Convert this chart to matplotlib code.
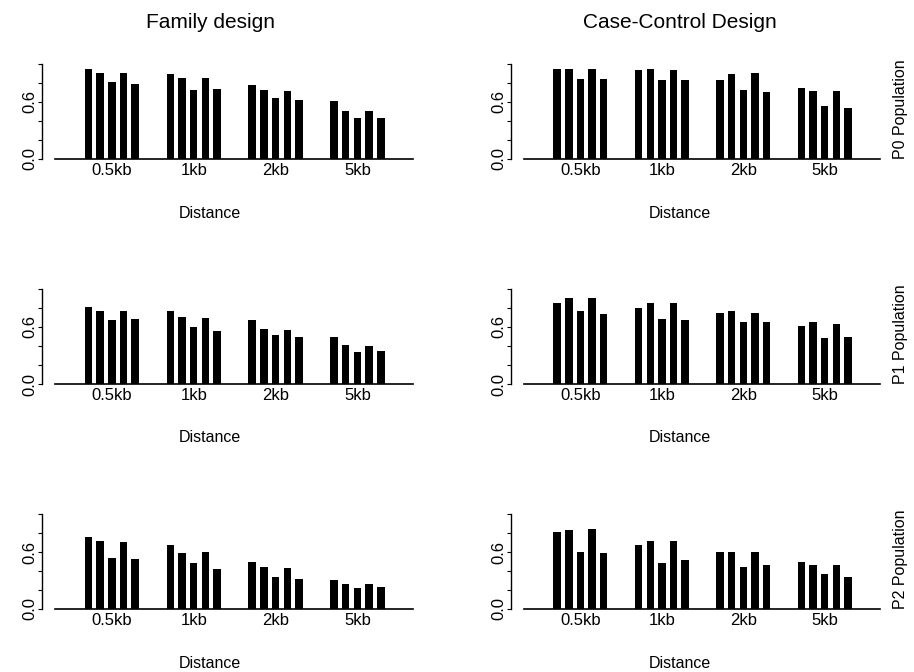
import matplotlib
matplotlib.use("Agg")
import matplotlib.pyplot as plt
import numpy as np

plt.rcParams['font.family'] = ['Liberation Sans', 'DejaVu Sans']

distances = ["0.5kb", "1kb", "2kb", "5kb"]
populations = ["P0 Population", "P1 Population", "P2 Population"]
designs = ["Family design", "Case-Control Design"]

# power values, 5 bars per distance group
family_p0 = [[0.95, 0.90, 0.81, 0.90, 0.79],
             [0.89, 0.85, 0.73, 0.85, 0.74],
             [0.78, 0.73, 0.64, 0.72, 0.62],
             [0.61, 0.51, 0.43, 0.50, 0.43]]
family_p1 = [[0.81, 0.77, 0.67, 0.77, 0.68],
             [0.77, 0.71, 0.60, 0.69, 0.56],
             [0.67, 0.58, 0.52, 0.57, 0.50],
             [0.49, 0.41, 0.34, 0.40, 0.35]]
family_p2 = [[0.76, 0.72, 0.54, 0.71, 0.53],
             [0.67, 0.59, 0.48, 0.60, 0.42],
             [0.50, 0.44, 0.34, 0.43, 0.32],
             [0.31, 0.26, 0.22, 0.26, 0.23]]
cc_p0 = [[0.95, 0.95, 0.84, 0.95, 0.84],
         [0.94, 0.95, 0.83, 0.94, 0.83],
         [0.83, 0.89, 0.73, 0.90, 0.71],
         [0.75, 0.72, 0.56, 0.72, 0.54]]
cc_p1 = [[0.85, 0.91, 0.77, 0.90, 0.74],
         [0.80, 0.85, 0.68, 0.85, 0.67],
         [0.75, 0.77, 0.65, 0.75, 0.65],
         [0.61, 0.65, 0.48, 0.63, 0.50]]
cc_p2 = [[0.81, 0.83, 0.60, 0.84, 0.59],
         [0.67, 0.72, 0.48, 0.72, 0.52],
         [0.60, 0.60, 0.44, 0.60, 0.46],
         [0.49, 0.46, 0.37, 0.46, 0.34]]

data = [[family_p0, cc_p0], [family_p1, cc_p1], [family_p2, cc_p2]]

W, H = 914, 672
fig = plt.figure(figsize=(W / 100, H / 100), dpi=100)

col_left = [42, 511]
col_right = [413, 880]
row_bottom = [159, 384, 609]
row_top = [64, 289, 514]

for r in range(3):
    for c in range(2):
        ax = fig.add_axes([col_left[c] / W, 1 - row_bottom[r] / H,
                           (col_right[c] - col_left[c]) / W,
                           (row_bottom[r] - row_top[r]) / H])
        vals = np.array(data[r][c])
        for g in range(len(distances)):
            xs = g * 7 + np.arange(5)
            ax.bar(xs, vals[g], width=0.64, color="black", edgecolor="black", linewidth=0)
        ax.set_xlim(-3.97, 27.75)
        ax.set_ylim(0, 1.0)
        ax.axhline(0, xmin=(-2.85 + 3.97) / 31.72, xmax=1.0, color="black",
                   lw=1.2, clip_on=False)
        for s in ["top", "right", "bottom"]:
            ax.spines[s].set_visible(False)
        ax.spines["left"].set_linewidth(1.0)
        ax.spines["left"].set_bounds(0, 1.0)
        ax.set_yticks([0, 0.2, 0.4, 0.6, 0.8, 1.0])
        ax.set_yticklabels(["0.0", "", "", "0.6", "", ""], rotation=90,
                           va="center", fontsize=12)
        ax.tick_params(axis="y", length=3, width=0.8, pad=0.5)
        ax.set_xticks([g * 7 + 2 for g in range(len(distances))])
        ax.set_xticklabels(distances, fontsize=12)
        ax.tick_params(axis="x", length=0, pad=3)
        ax.patch.set_visible(False)

        cx = [210, 680][c]
        fig.text(cx / W, 1 - (row_bottom[r] + 54) / H, "Distance",
                 ha="center", va="center", fontsize=11.5)
        if c == 1:
            fig.text(900 / W, 1 - (row_bottom[r] - 50) / H, populations[r],
                     rotation=90, ha="center", va="center", fontsize=11.5)

for c in range(2):
    fig.text([210, 680][c] / W, 1 - 22 / H, designs[c],
             ha="center", va="center", fontsize=15)

fig.savefig("out.png", dpi=100)
